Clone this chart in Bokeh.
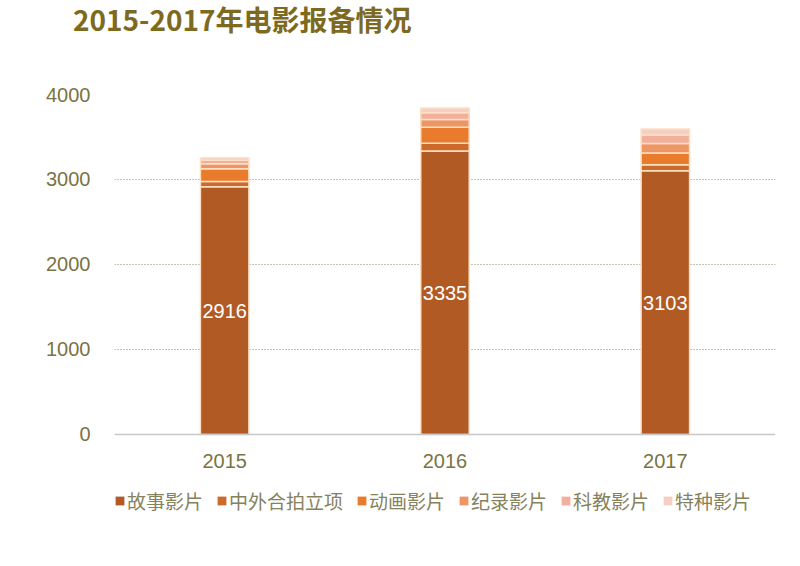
from bokeh.plotting import figure
from bokeh.models import Legend, LegendItem, ColumnDataSource, Range1d, FactorRange, Div
from bokeh.layouts import column
from bokeh.core.properties import value
from bokeh.embed import file_html
from bokeh.resources import INLINE

title_text = "2015-2017年电影报备情况"
years = ["2015", "2016", "2017"]
series = ["故事影片", "中外合拍立项", "动画影片", "纪录影片", "科教影片", "特种影片"]
story = [2916, 3335, 3103]
coprod = [60, 90, 70]
anim = [150, 190, 140]
docu = [60, 90, 110]
scied = [40, 80, 100]
special = [30, 55, 70]
colors = ["#B15A24", "#CC6A2C", "#E87B2C", "#EE9564", "#F2B09C", "#F6CFC4"]
y_ticks = [0, 1000, 2000, 3000, 4000]

data = {"year": years, series[0]: story, series[1]: coprod, series[2]: anim,
        series[3]: docu, series[4]: scied, series[5]: special,
        "mid": [v / 2 for v in story], "lab": [str(v) for v in story]}
src = ColumnDataSource(data)

p = figure(x_range=FactorRange(*years), y_range=Range1d(-1012, 4000),
           frame_width=661, frame_height=426, output_backend="svg", toolbar_location=None,
           title_location=None,
           min_border_left=114, min_border_right=25, min_border_top=52,
           min_border_bottom=0)
p.outline_line_color = None
p.background_fill_color = "white"
p.border_fill_color = "white"

p.vbar_stack(series, x="year", width=0.22, source=src, color=colors,
             line_color="#FCE0C4", line_width=1.5)

p.text(x="year", y="mid", text="lab", source=src, text_color="white",
       text_font=value("Liberation Sans"), text_font_size="20px",
       text_align="center", text_baseline="middle")

# zero-height dummy bars that only feed the legend swatches
items = []
for s, c in zip(series, colors):
    r = p.vbar(x=[years[0]], top=[0], bottom=[0], width=0.01, fill_color=c, line_color=None)
    items.append(LegendItem(label=s, renderers=[r]))
leg = Legend(items=items, orientation="horizontal", location=(0, 6),
             glyph_width=11, glyph_height=11, label_standoff=2, spacing=13,
             label_text_font="Noto Sans CJK SC", label_text_font_size="19px",
             label_text_color="#86825E", border_line_color=None,
             background_fill_alpha=0, padding=0, margin=0)
p.add_layout(leg, "center")

p.yaxis.ticker = y_ticks
p.yaxis.axis_line_color = None
p.yaxis.major_tick_line_color = None
p.yaxis.minor_tick_line_color = None
p.yaxis.major_label_standoff = 18
p.yaxis.major_label_text_font = "Liberation Sans"
p.yaxis.major_label_text_font_size = "20px"
p.yaxis.major_label_text_color = "#7A7442"

p.xaxis.fixed_location = 0
p.xaxis.axis_line_color = "#C8C8C8"
p.xaxis.axis_line_width = 1.5
p.xaxis.major_tick_line_color = None
p.xaxis.minor_tick_line_color = None
p.xaxis.major_label_standoff = 14
p.xaxis.major_label_text_font = "Liberation Sans"
p.xaxis.major_label_text_font_size = "20px"
p.xaxis.major_label_text_color = "#7A7442"

p.xgrid.grid_line_color = None
p.ygrid.ticker = y_ticks[1:]
p.ygrid.grid_line_color = "#8C8858"
p.ygrid.grid_line_dash = "1 2"
p.ygrid.grid_line_width = 1

head = Div(text=title_text, width=727, height=42, margin=(0, 0, 0, 73),
           styles={"font-family": "'Noto Sans CJK SC'", "font-size": "28px",
                   "font-weight": "bold", "color": "#7D6A1E",
                   "line-height": "38px", "white-space": "nowrap"})

layout = column(head, p, spacing=0)
open("out.html", "w").write(file_html(layout, INLINE))
